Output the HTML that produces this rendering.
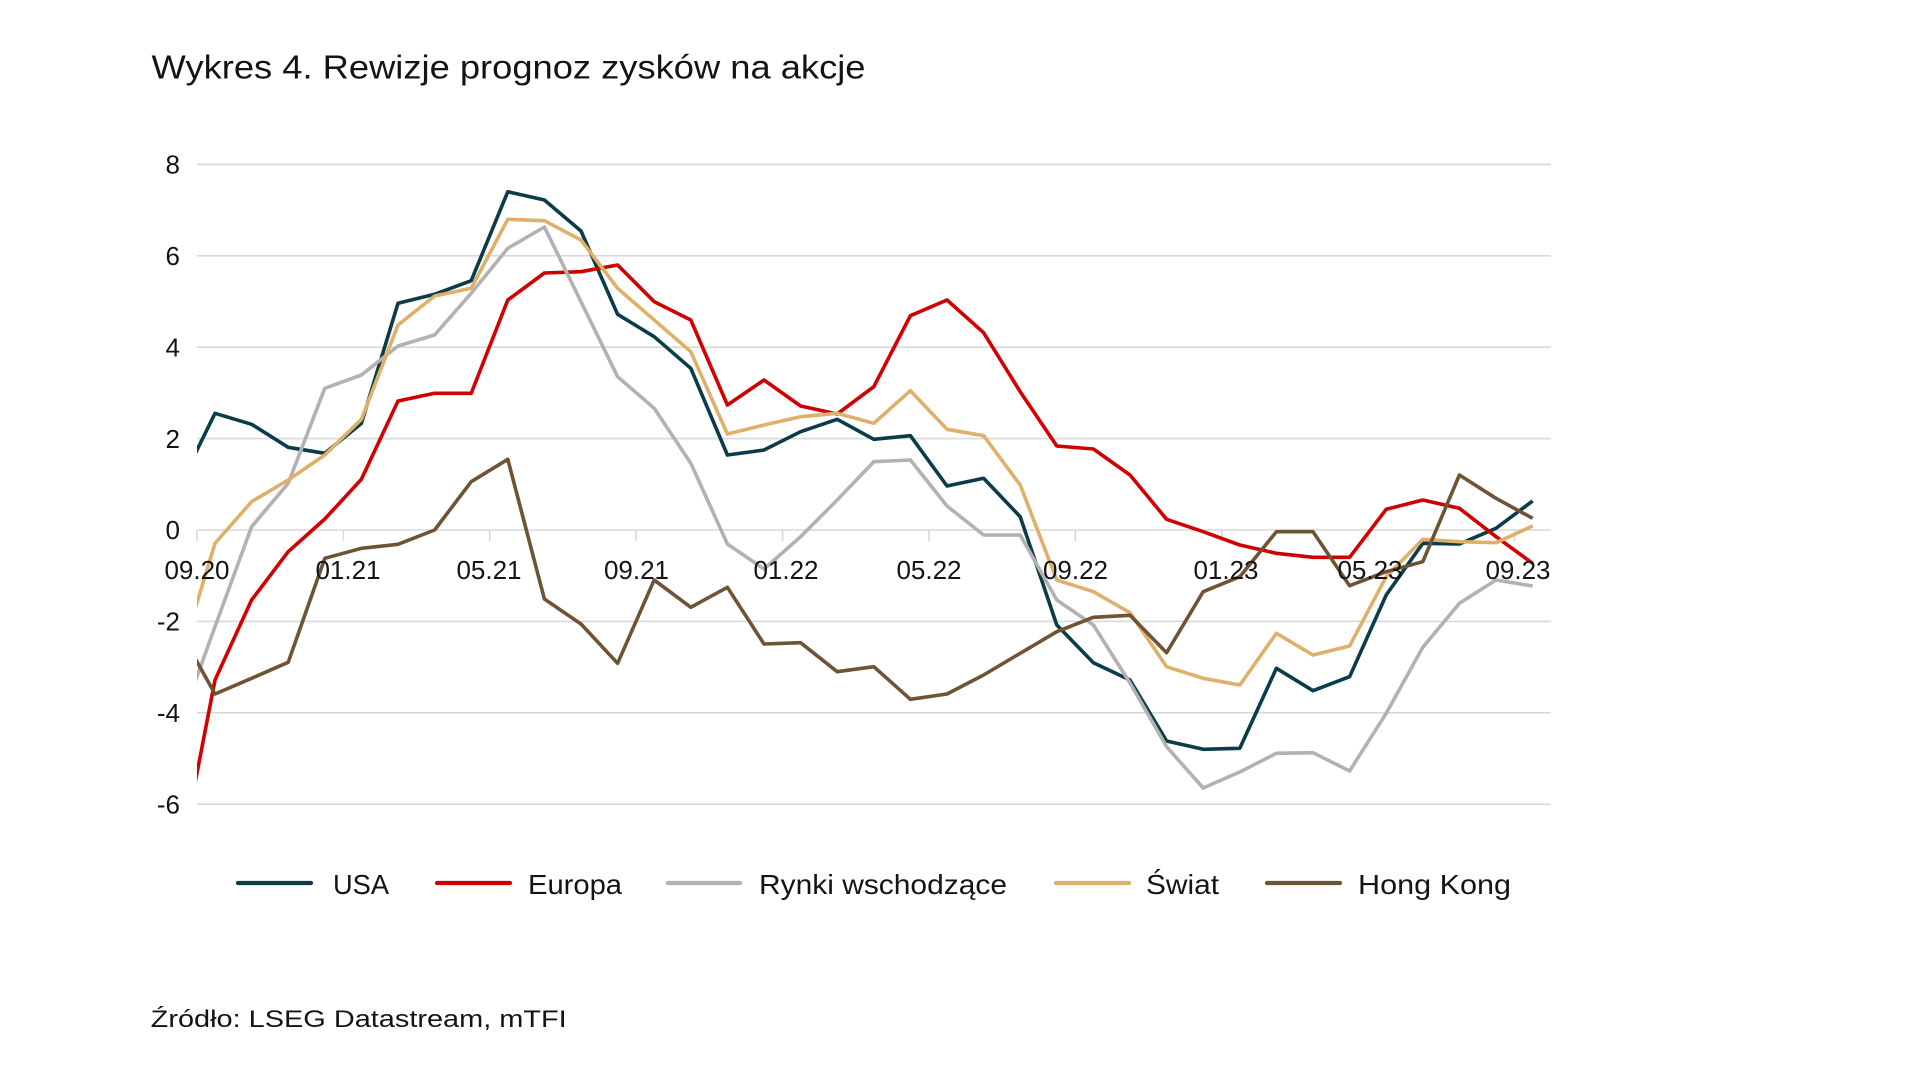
<!DOCTYPE html>
<html>
<head>
<meta charset="utf-8">
<style>
  html,body{margin:0;padding:0;background:#ffffff;}
  svg{display:block;}
  text{font-family:"Liberation Sans", sans-serif; fill:#141414;}
</style>
</head>
<body>
<svg width="1920" height="1080" viewBox="0 0 1920 1080" xmlns="http://www.w3.org/2000/svg">
  <rect x="0" y="0" width="1920" height="1080" fill="#ffffff"/>
  <defs>
    <clipPath id="plot"><rect x="197" y="100" width="1360" height="760"/></clipPath>
  </defs>

  <!-- Title -->
  <text x="151.5" y="78.5" font-size="33" textLength="714" lengthAdjust="spacingAndGlyphs">Wykres 4. Rewizje prognoz zysków na akcje</text>

  <!-- Gridlines -->
  <g stroke="#d9d9d9" stroke-width="1.6" fill="none">
    <line x1="197" y1="164.4" x2="1551" y2="164.4"/>
    <line x1="197" y1="255.8" x2="1551" y2="255.8"/>
    <line x1="197" y1="347.2" x2="1551" y2="347.2"/>
    <line x1="197" y1="438.6" x2="1551" y2="438.6"/>
    <line x1="197" y1="530" x2="1551" y2="530"/>
    <line x1="197" y1="621.4" x2="1551" y2="621.4"/>
    <line x1="197" y1="712.8" x2="1551" y2="712.8"/>
    <line x1="197" y1="804.2" x2="1551" y2="804.2"/>
    <!-- tick marks -->
    <line x1="197" y1="530" x2="197" y2="541"/>
    <line x1="343.4" y1="530" x2="343.4" y2="541"/>
    <line x1="489.8" y1="530" x2="489.8" y2="541"/>
    <line x1="636.2" y1="530" x2="636.2" y2="541"/>
    <line x1="782.6" y1="530" x2="782.6" y2="541"/>
    <line x1="929" y1="530" x2="929" y2="541"/>
    <line x1="1075.4" y1="530" x2="1075.4" y2="541"/>
    <line x1="1221.8" y1="530" x2="1221.8" y2="541"/>
    <line x1="1368.2" y1="530" x2="1368.2" y2="541"/>
    <line x1="1514.6" y1="530" x2="1514.6" y2="541"/>
  </g>

  <!-- Y labels -->
  <g font-size="26" text-anchor="end">
    <text x="180" y="173.6">8</text>
    <text x="180" y="265">6</text>
    <text x="180" y="356.4">4</text>
    <text x="180" y="447.8">2</text>
    <text x="180" y="539.2">0</text>
    <text x="180" y="630.6">-2</text>
    <text x="180" y="722">-4</text>
    <text x="180" y="813.4">-6</text>
  </g>

  <!-- Series -->
  <g clip-path="url(#plot)" fill="none" stroke-width="3.6" stroke-linejoin="round" stroke-linecap="butt">
    <polyline stroke="#0b3c49" points="178.4,488 215,413.3 251.6,424.3 288.2,447.3 324.8,453.3 361.4,423.3 398,303.3 434.6,294.3 471.2,280.7 507.8,191.7 544.4,200 581,231 617.6,314.3 654.2,336.7 690.8,368.3 727.4,455 764,450 800.6,431.7 837.2,419.3 873.8,439.3 910.4,435.7 947,486 983.6,478.3 1020.2,516.7 1056.8,625 1093.4,662.7 1130,680 1166.6,741 1203.2,749.3 1239.8,748.3 1276.4,668.3 1313,690.7 1349.6,676.7 1386.2,595 1422.8,543.3 1459.4,544 1496,528.3 1532.6,501"/>
    <polyline stroke="#d00000" points="178.4,869 215,680 251.6,600 288.2,551.7 324.8,519 361.4,479.3 398,401 434.6,393.3 471.2,393.3 507.8,300 544.4,273 581,271.7 617.6,265 654.2,301.7 690.8,320 727.4,405 764,380 800.6,406 837.2,414 873.8,386.7 910.4,315.7 947,300 983.6,332.7 1020.2,391.7 1056.8,446 1093.4,449 1130,475 1166.6,519.3 1203.2,531.7 1239.8,545 1276.4,553.3 1313,557.3 1349.6,557.3 1386.2,509.3 1422.8,500 1459.4,508.3 1496,536.7 1532.6,563.3"/>
    <polyline stroke="#b4b1b2" points="178.4,728 215,626.7 251.6,526.7 288.2,483.3 324.8,388.3 361.4,375 398,346 434.6,335 471.2,293.3 507.8,248.3 544.4,227 581,301.7 617.6,376.7 654.2,408.3 690.8,463.3 727.4,544 764,569 800.6,536.7 837.2,500 873.8,461.7 910.4,460 947,506 983.6,535 1020.2,535 1056.8,600 1093.4,625 1130,683 1166.6,746.7 1203.2,788 1239.8,772 1276.4,753.3 1313,752.7 1349.6,771 1386.2,713.3 1422.8,647.3 1459.4,603.3 1496,580 1532.6,586"/>
    <polyline stroke="#deb06a" points="178.4,664 215,543.3 251.6,501.7 288.2,480 324.8,455 361.4,419.3 398,325 434.6,296 471.2,288.3 507.8,219.3 544.4,220.7 581,240 617.6,288.3 654.2,320 690.8,351.7 727.4,434 764,425 800.6,416.7 837.2,413.3 873.8,423.3 910.4,390.7 947,429.3 983.6,435.7 1020.2,485 1056.8,580 1093.4,591.7 1130,612.7 1166.6,666.7 1203.2,678.3 1239.8,685 1276.4,633.3 1313,655 1349.6,646 1386.2,576.7 1422.8,539.3 1459.4,541.7 1496,542.7 1532.6,526"/>
    <polyline stroke="#6e5435" points="178.4,628.4 215,694 251.6,678.3 288.2,662.3 324.8,558.3 361.4,548.3 398,544.3 434.6,530 471.2,481.7 507.8,459.3 544.4,599 581,624 617.6,663.3 654.2,580 690.8,607.3 727.4,587.3 764,644 800.6,642.7 837.2,671.7 873.8,666.7 910.4,699.3 947,694 983.6,675 1020.2,653.3 1056.8,631.7 1093.4,617.3 1130,615.3 1166.6,652.7 1203.2,591.7 1239.8,576.7 1276.4,531.7 1313,531.7 1349.6,585.7 1386.2,571.7 1422.8,561.7 1459.4,475 1496,498.3 1532.6,518.3"/>
  </g>

  <!-- X labels -->
  <g font-size="26" text-anchor="middle">
    <text x="197" y="579">09.20</text>
    <text x="348" y="579">01.21</text>
    <text x="489" y="579">05.21</text>
    <text x="636.5" y="579">09.21</text>
    <text x="786" y="579">01.22</text>
    <text x="929" y="579">05.22</text>
    <text x="1075.5" y="579">09.22</text>
    <text x="1226" y="579">01.23</text>
    <text x="1370" y="579">05.23</text>
    <text x="1518" y="579">09.23</text>
  </g>

  <!-- Legend -->
  <g stroke-width="4.2" stroke-linecap="round">
    <line x1="238" y1="883" x2="311" y2="883" stroke="#0b3c49"/>
    <line x1="437" y1="883" x2="510" y2="883" stroke="#d00000"/>
    <line x1="668" y1="883" x2="740" y2="883" stroke="#b4b1b2"/>
    <line x1="1056" y1="883" x2="1129" y2="883" stroke="#deb06a"/>
    <line x1="1267" y1="883" x2="1340" y2="883" stroke="#6e5435"/>
  </g>
  <g font-size="28">
    <text x="333" y="894" textLength="56" lengthAdjust="spacingAndGlyphs">USA</text>
    <text x="528" y="894" textLength="94" lengthAdjust="spacingAndGlyphs">Europa</text>
    <text x="759" y="894" textLength="248" lengthAdjust="spacingAndGlyphs">Rynki wschodzące</text>
    <text x="1146" y="894" textLength="73" lengthAdjust="spacingAndGlyphs">Świat</text>
    <text x="1358" y="894" textLength="153" lengthAdjust="spacingAndGlyphs">Hong Kong</text>
  </g>

  <!-- Footer -->
  <text x="150.7" y="1027" font-size="24" textLength="416" lengthAdjust="spacingAndGlyphs">Źródło: LSEG Datastream, mTFI</text>
</svg>
</body>
</html>
